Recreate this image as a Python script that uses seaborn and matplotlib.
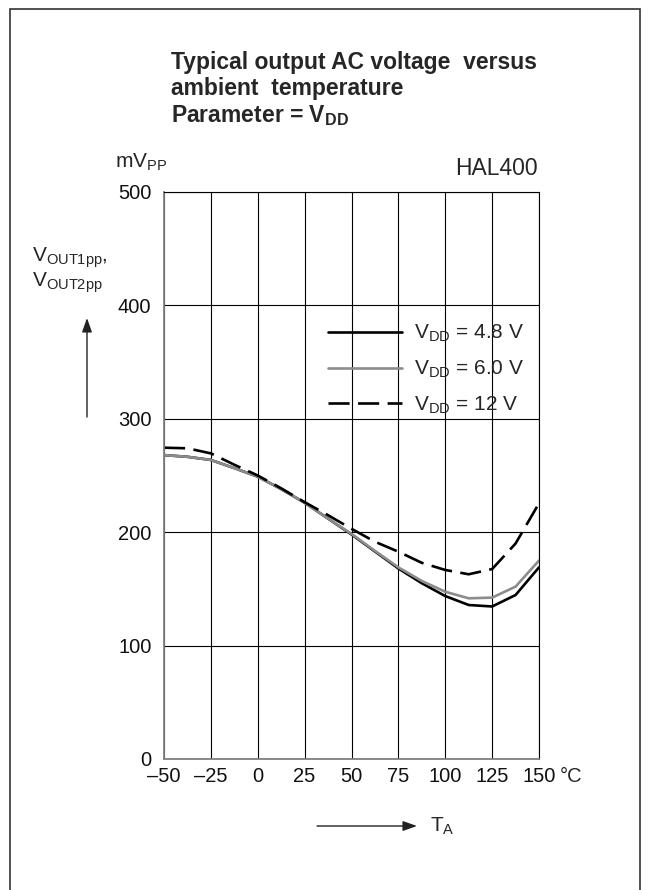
import matplotlib
matplotlib.use("Agg")
import matplotlib.pyplot as plt
import seaborn as sns
from matplotlib.patches import Rectangle

# temperature (°C) and output voltage (mVpp)
temp_c = [-50, -37.5, -25, -12.5, 0, 12.5, 25, 37.5, 50, 62.5, 75, 87.5, 100, 112.5, 125, 137.5, 150]
v_48 = [268, 266.5, 263.7, 256.5, 249, 238, 226, 212, 198, 183, 168, 155, 143.7, 135.8, 134.5, 144.6, 169]
v_60 = [268, 266.5, 263.7, 256.5, 249, 238, 226, 212, 198.5, 183.5, 169, 157, 147.5, 141.7, 142.3, 152, 175]
v_12 = [274.5, 274, 269.5, 259.5, 250, 238.7, 226.5, 215, 203, 191.6, 182.8, 173, 166.7, 162.9, 167.5, 190, 225.5]

series_labels = [r"V$_{DD}$ = 4.8 V", r"V$_{DD}$ = 6.0 V", r"V$_{DD}$ = 12 V"]
x_ticks = [-50, -25, 0, 25, 50, 75, 100, 125, 150]
x_ticklabels = ["\u201350", "\u201325", "0", "25", "50", "75", "100", "125", "150"]
y_ticks = [0, 100, 200, 300, 400, 500]

W, H = 650, 890

sns.set_style("white")
plt.rcParams["font.family"] = ["Liberation Sans", "DejaVu Sans"]
plt.rcParams["mathtext.fontset"] = "custom"
plt.rcParams["mathtext.rm"] = "Liberation Sans"
plt.rcParams["mathtext.it"] = "Liberation Sans"
plt.rcParams["mathtext.bf"] = "Liberation Sans:bold"
plt.rcParams["mathtext.default"] = "regular"

fig = plt.figure(figsize=(W / 100, H / 100), dpi=100)
ax = fig.add_axes([164 / W, 1 - 759 / H, 375 / W, 567 / H])


def fx(px):
    return px / W


def fy(py):
    return 1 - py / H


sns.lineplot(x=temp_c, y=v_48, ax=ax, color="black", linewidth=1.9, label=series_labels[0])
sns.lineplot(x=temp_c, y=v_60, ax=ax, color="#8c8c8c", linewidth=1.9, label=series_labels[1])
sns.lineplot(x=temp_c, y=v_12, ax=ax, color="black", linewidth=1.9, label=series_labels[2])
ax.lines[2].set_dashes((8, 3.2))

ax.set_xlim(-50, 150)
ax.set_ylim(0, 500)
ax.set_xticks(x_ticks)
ax.set_xticklabels(x_ticklabels)
ax.set_yticks(y_ticks)
ax.set_xlabel("")
ax.set_ylabel("")
ax.tick_params(axis="both", length=0, labelsize=14.5, colors="#111111")
ax.tick_params(axis="y", pad=9)
ax.tick_params(axis="x", pad=6)

ax.set_axisbelow(True)
ax.grid(True, color="black", linewidth=0.8)
for side in ["left", "bottom"]:
    ax.spines[side].set_color("#808080")
    ax.spines[side].set_linewidth(1.3)
for side in ["top", "right"]:
    ax.spines[side].set_color("black")
    ax.spines[side].set_linewidth(0.8)

ax.legend(loc="upper left", bbox_to_anchor=(0.437, 0.769), frameon=False,
          fontsize=15, handlelength=3.55, handletextpad=0.6, labelspacing=0.7,
          borderpad=0, borderaxespad=0)

# title block
fig.text(fx(171), fy(69), "Typical output AC voltage  versus", fontsize=16.5, fontweight="bold", va="baseline")
fig.text(fx(171), fy(95), "ambient  temperature", fontsize=16.5, fontweight="bold", va="baseline")
fig.text(fx(171), fy(122), r"Parameter = $\mathbf{V_{DD}}$", fontsize=16.5, fontweight="bold", va="baseline")

fig.text(fx(115), fy(162), r"mV$_{PP}$", fontsize=15, va="center")
fig.text(fx(538), fy(175), "HAL400", fontsize=16.5, ha="right", va="baseline")
fig.text(fx(32), fy(258), r"V$_{OUT1pp}$,", fontsize=15, va="center")
fig.text(fx(32), fy(283), r"V$_{OUT2pp}$", fontsize=15, va="center")
fig.text(fx(560), fy(776), "°C", fontsize=14.5, va="center")
fig.text(fx(430), fy(826), r"T$_{A}$", fontsize=15, va="center")

arrow = dict(arrowstyle="-|>,head_length=0.85,head_width=0.3", color="#222222", lw=1.0, shrinkA=0, shrinkB=0)
ax.annotate("", xy=(87, H - 318), xytext=(87, H - 417), xycoords="figure pixels",
            textcoords="figure pixels", arrowprops=arrow, annotation_clip=False)
ax.annotate("", xy=(417, H - 826), xytext=(317, H - 826), xycoords="figure pixels",
            textcoords="figure pixels", arrowprops=arrow, annotation_clip=False)

fig.add_artist(Rectangle((fx(10), -0.05), fx(630), fy(9) + 0.05, transform=fig.transFigure,
                         fill=False, edgecolor="#333333", linewidth=1.2))

fig.savefig("out.png", dpi=100)
